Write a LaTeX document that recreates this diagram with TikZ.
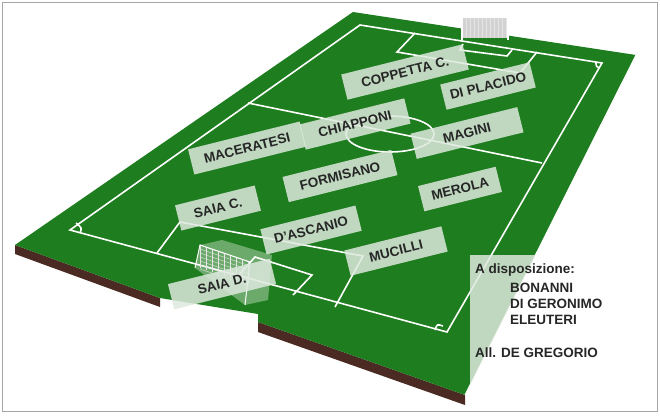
\documentclass[tikz,border=0pt]{standalone}
\usepackage{fontspec}
\setmainfont{Liberation Sans}
\usetikzlibrary{positioning}

\definecolor{grass}{HTML}{1E7D1E}
\definecolor{sidebrown}{HTML}{4A2A22}
\definecolor{boxfill}{HTML}{DDE9DD}

\tikzset{
    player/.style={fill=boxfill, fill opacity=0.85, text opacity=1, rotate=14,
        inner sep=0pt, minimum height=26pt, font=\fontsize{13.5}{15}\selectfont\bfseries, text=black!85},
    pitchline/.style={white, line width=1.6pt},
    netline/.style={white!80!gray, line width=0.4pt},
    bench/.style={font=\fontsize{13.5}{15}\selectfont\bfseries, text=black!85, inner sep=0pt, anchor=west}
}

\begin{document}
\begin{tikzpicture}[x=1pt,y=-1pt]
    \useasboundingbox (0,0) rectangle (660,415);
    \draw[gray!70, line width=1pt] (2,2) rectangle (657,411);

    % Side of the pitch
    \fill[sidebrown] (15,245) -- (160,298) -- (160,307) -- (15,254) -- cycle;
    \fill[sidebrown] (258,322) -- (465,395) -- (465,405) -- (258,332) -- cycle;
    % Grass
    \coordinate (gtl) at (353,12);
    \coordinate (gtr) at (636,55);
    \coordinate (gbr) at (465,395);
    \coordinate (gl) at (15,245);
    \fill[grass] (gtl) -- (gtr) -- (gbr) -- (258,322) -- (258,314) -- (160,298) -- (gl) -- cycle;
    \draw[white, line width=1pt] (gtr) -- (gbr);

    % Field lines
    \coordinate (ftl) at (360,25);
    \coordinate (ftr) at (602,63);
    \coordinate (fbr) at (447,332);
    \coordinate (fbl) at (70,230);
    \draw[pitchline] (ftl) -- (ftr) -- (fbr) -- (fbl) -- cycle;
    \draw[pitchline] (248,103) -- (542,163);
    \draw[pitchline] (390,134) ellipse [x radius=44, y radius=18];
    \draw[pitchline] (157,253) -- (180,222) -- (363,256) -- (335,307);
    \draw[pitchline] (238,276) -- (255,257) -- (312,275) -- (293,295);
    \draw[pitchline] (415,33) -- (397,52) -- (520,73) -- (537,52);
    \draw[pitchline] (463,44) -- (460,50) -- (507,56) -- (512,50);
    \draw[pitchline] (80,233) .. controls (82,228) .. (76,223);
    \draw[pitchline] (435,330) .. controls (437,324) .. (443,326);
    \draw[pitchline] (596,62) .. controls (596,66) .. (599,68);

    % Goals
    \fill[gray!35] (462,18) rectangle (508,38);
    \foreach \gx in {466,470,...,506} \draw[netline] (\gx,18) -- (\gx,38);
    \draw[white, line width=1.2pt] (462,40) -- (462,17) -- (508,17) -- (508,40);
    \fill[white, fill opacity=0.35] (200,245) -- (222,240) -- (272,255) -- (268,300) -- (245,305) -- (195,268) -- cycle;
    \foreach \gy in {0,4,...,24} \draw[netline] (200,245+\gy) -- (250,262+\gy);
    \foreach \gx in {0,6,...,48} \draw[netline] (200+\gx,245+\gx/3) -- (200+\gx,268+\gx/3);
    \draw[white, line width=1pt] (195,268) -- (200,245) -- (250,262) -- (245,305);

    % Nodes
    \node (coppetta) [player, minimum width=125pt] at (405,72) {COPPETTA C.};
    \node (placido) [player, minimum width=92pt] at (488,86) {DI PLACIDO};
    \node (chiapponi) [player, minimum width=108pt] at (355,124) {CHIAPPONI};
    \node (maceratesi) [player, minimum width=115pt] at (247,148) {MACERATESI};
    \node (magini) [player, minimum width=110pt] at (467,133) {MAGINI};
    \node (formisano) [player, minimum width=112pt] at (340,176) {FORMISANO};
    \node (merola) [player, minimum width=80pt] at (460,189) {MEROLA};
    \node (saiac) [player, minimum width=82pt] at (218,208) {SAIA C.};
    \node (dascanio) [player, minimum width=98pt] at (311,230) {D’ASCANIO};
    \node (mucilli) [player, minimum width=100pt] at (396,251) {MUCILLI};
    \node (saiad) [player, minimum width=105pt] at (222,284) {SAIA D.};

    % Bench
    \begin{scope}
        \clip (gtl) -- (gtr) -- (gbr) -- (258,322) -- (258,314) -- (160,298) -- (gl) -- cycle;
        \fill[boxfill, fill opacity=0.85] (470,255) rectangle (655,400);
    \end{scope}
    \node (bench) [bench] at (475,270) {A disposizione:};
    \node (bonanni) [bench] at (510,288) {BONANNI};
    \node (geronimo) [bench, below=6pt of bonanni.south west, anchor=north west] {DI GERONIMO};
    \node (eleuteri) [bench, below=6pt of geronimo.south west, anchor=north west] {ELEUTERI};
    \node (coach) [bench] at (475,353) {All. DE GREGORIO};
\end{tikzpicture}
\end{document}
